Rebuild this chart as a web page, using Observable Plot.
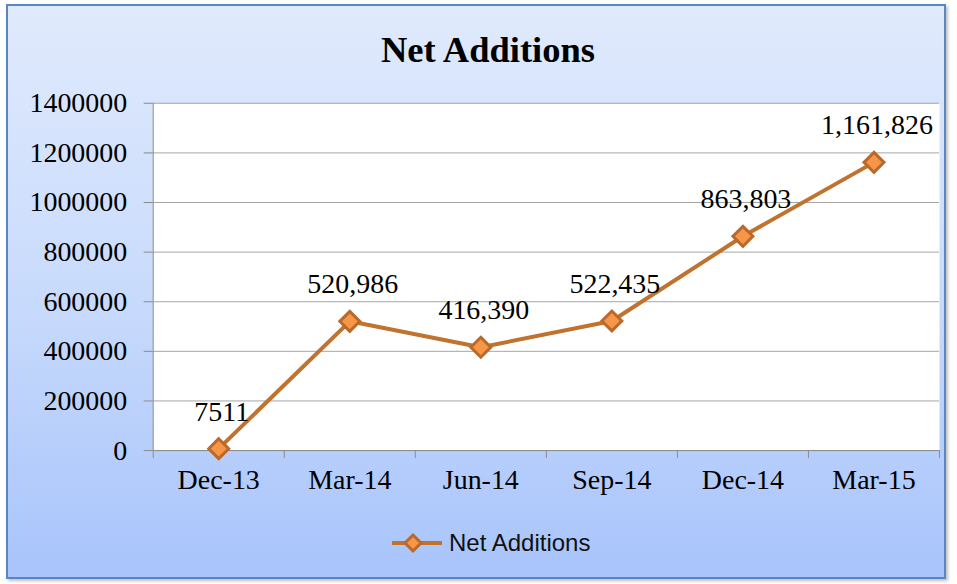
<!DOCTYPE html>
<html>
<head>
<meta charset="utf-8">
<script src="https://cdn.jsdelivr.net/npm/d3@7"></script>
<script src="https://cdn.jsdelivr.net/npm/@observablehq/plot@0.6"></script>
<style>
  html, body { margin: 0; padding: 0; background: #ffffff; }
  #chart {
    position: absolute; left: 6px; top: 4px; width: 940px; height: 575px;
    border: 2px solid #5b87c0; box-sizing: border-box;
    background: linear-gradient(to bottom, #e0eafc 0%, #c9dbfc 50%, #a8c4fb 100%);
    box-shadow: 2px 2px 3px rgba(0,0,0,0.25);
    overflow: hidden;
  }
  #title {
    position: absolute; left: 12px; width: 100%; top: 23px; text-align: center; line-height: 1.15;
    font-family: "Liberation Serif", serif; font-weight: bold; font-size: 36.5px; color: #000;
  }
  #plot { position: absolute; left: 0; top: 0; }
  #legend {
    position: absolute; left: 383px; top: 523px; display: flex; align-items: center; line-height: 1.15;
    font-family: "Liberation Sans", sans-serif; font-size: 24px; color: #111;
  }
</style>
</head>
<body>
<div id="chart">
  <div id="title">Net Additions</div>
  <div id="plot"></div>
  <div id="legend"></div>
</div>
<script>
const categories = ["Dec-13", "Mar-14", "Jun-14", "Sep-14", "Dec-14", "Mar-15"];
const values = [7511, 520986, 416390, 522435, 863803, 1161826];
const valueLabels = ["7511", "520,986", "416,390", "522,435", "863,803", "1,161,826"];
const yTicks = [0, 200000, 400000, 600000, 800000, 1000000, 1200000, 1400000];
const seriesName = "Net Additions";

const data = categories.map((c, i) => ({x: i + 0.5, cat: c, v: values[i], label: valueLabels[i]}));
const lineColor = "#c0722f";

const plot = Plot.plot({
  width: 938,
  height: 520,
  marginLeft: 145,
  marginRight: 5,
  marginTop: 97,
  marginBottom: 75,
  style: {fontFamily: "Liberation Serif, serif", fontSize: "28px", background: "transparent", color: "#000"},
  x: {type: "linear", domain: [0, 6]},
  y: {domain: [0, 1400000]},
  marks: [
    Plot.frame({fill: "white", stroke: null}),
    Plot.gridY(yTicks, {stroke: "#a6a6a6", strokeOpacity: 1, strokeWidth: 1}),
    Plot.axisY(yTicks, {tickFormat: d => String(d), tickSize: 9, tickPadding: 17, stroke: "#8c8c8c", fill: "#000", fontSize: 28, label: null}),
    Plot.axisX(d3.range(7), {tickFormat: () => "", tickSize: 8, stroke: "#8c8c8c", label: null}),
    Plot.axisX(data.map(d => d.x), {tickFormat: d => categories[Math.floor(d)], tickSize: 0, tickPadding: 19, fill: "#000", fontSize: 28, label: null}),
    Plot.ruleX([0], {stroke: "#8c8c8c"}),
    Plot.ruleY([0], {stroke: "#8c8c8c"}),
    Plot.line(data, {x: "x", y: "v", stroke: lineColor, strokeWidth: 4}),
    Plot.dot(data, {x: "x", y: "v", symbol: "diamond2", r: 9, fill: "#f79646", stroke: "#b9692b", strokeWidth: 3}),
    Plot.text(data, {x: "x", y: "v", text: "label", dy: -37, dx: 3, fontSize: 28, fill: "#000"})
  ]
});
document.getElementById("plot").appendChild(plot);

const legend = document.getElementById("legend");
legend.innerHTML = `<svg width="52" height="22" style="margin-right:6px"><line x1="1" x2="51" y1="11" y2="11" stroke="${lineColor}" stroke-width="4"/><path d="M22,3 L30,11 L22,19 L14,11 Z" fill="#f79646" stroke="#b9692b" stroke-width="3"/></svg><span>${seriesName}</span>`;
</script>
</body>
</html>
